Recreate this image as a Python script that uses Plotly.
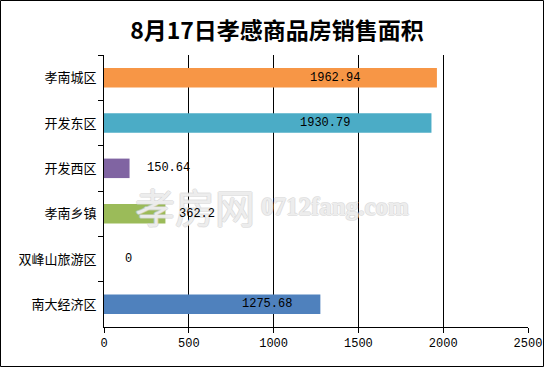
import plotly.graph_objects as go

# ---- data ----
categories = ["孝南城区", "开发东区", "开发西区", "孝南乡镇", "双峰山旅游区", "南大经济区"]
values = [1962.94, 1930.79, 150.64, 362.2, 0, 1275.68]
value_labels = ["1962.94", "1930.79", "150.64", "362.2", "0", "1275.68"]
x_ticks = [0, 500, 1000, 1500, 2000, 2500]
title_text = "8月17日孝感商品房销售面积"

# ---- style ----
bar_colors = ["#F79646", "#4BACC6", "#8064A2", "#9BBB59", "#FFFFFF", "#4F81BD"]
label_shift_px = [-102, -106, 39, 32, 24, -53]
W, H = 545, 368
ML, MR, MT, MB = 104, 17, 55, 41
PW, PH = W - ML - MR, H - MT - MB


def px_x(p):
    return (p - ML) / PW


def px_y(p):
    return (H - MB - p) / PH


num_font = "Liberation Mono, DejaVu Sans Mono, monospace"
cjk_font = "Noto Sans CJK SC, sans-serif"

fig = go.Figure()
fig.add_trace(go.Bar(
    y=categories, x=values, orientation="h",
    marker=dict(color=bar_colors, line=dict(width=0)),
    hoverinfo="x+y",
))

annotations = []
outline = "1px 0 0 #d2d2d2, -1px 0 0 #d2d2d2, 0 1px 0 #d2d2d2, 0 -1px 0 #d2d2d2"
annotations.append(dict(
    x=px_x(195), y=px_y(206), xref="paper", yref="paper", text="孝房网",
    showarrow=False, xanchor="center", yanchor="middle",
    font=dict(family=cjk_font, size=40, color="rgba(255,255,255,0.6)",
              shadow=outline, weight="normal"),
))
annotations.append(dict(
    x=px_x(335), y=px_y(206), xref="paper", yref="paper", text="0712fang.com",
    showarrow=False, xanchor="center", yanchor="middle",
    font=dict(family="Liberation Serif, serif", size=25,
              color="rgba(255,255,255,0.6)", shadow=outline, weight="bold"),
))
for cat, v, lab, sh in zip(categories, values, value_labels, label_shift_px):
    annotations.append(dict(
        x=v, y=cat, xref="x", yref="y", text=lab, showarrow=False,
        xshift=sh, xanchor="center", yanchor="middle",
        font=dict(family=num_font, size=12, color="black"),
    ))

fig.update_layout(
    width=W, height=H,
    margin=dict(l=ML, r=MR, t=MT, b=MB, pad=0, autoexpand=False),
    paper_bgcolor="white", plot_bgcolor="white",
    showlegend=False,
    bargap=0.57,
    title=dict(text=title_text, x=277 / W, y=1 - 31 / H, xref="container",
               yref="container", xanchor="center", yanchor="middle",
               font=dict(family=cjk_font, size=23, color="black", weight="bold")),
    xaxis=dict(range=[0, 2500], tickvals=x_ticks, ticktext=[str(t) for t in x_ticks],
               showgrid=True, gridcolor="black", gridwidth=1,
               showline=True, linecolor="black", linewidth=1,
               ticks="outside", ticklen=5, tickcolor="black",
               zeroline=False, fixedrange=True, automargin=False,
               tickfont=dict(family=num_font, size=12, color="black")),
    yaxis=dict(categoryorder="array", categoryarray=categories, autorange="reversed",
               showline=True, linecolor="black", linewidth=1,
               ticks="outside", ticklen=5, tickcolor="black", tickson="boundaries",
               ticklabelstandoff=4,
               showgrid=False, fixedrange=True, automargin=False,
               tickfont=dict(family=cjk_font, size=13, color="black")),
    annotations=annotations,
    shapes=[dict(type="rect", xref="paper", yref="paper",
                 x0=px_x(0.5), x1=px_x(543.5), y0=px_y(366.5), y1=px_y(0.5),
                 line=dict(color="black", width=1), fillcolor="rgba(0,0,0,0)",
                 layer="above")],
)

fig.write_html("out.html", config={"displayModeBar": False})

# remove the browser's default page margin so the figure sits at the top-left corner
with open("out.html", "r", encoding="utf-8") as f:
    html = f.read()
html = html.replace("<head>", "<head><style>html,body{margin:0;padding:0;overflow:hidden;}</style>", 1)
with open("out.html", "w", encoding="utf-8") as f:
    f.write(html)
